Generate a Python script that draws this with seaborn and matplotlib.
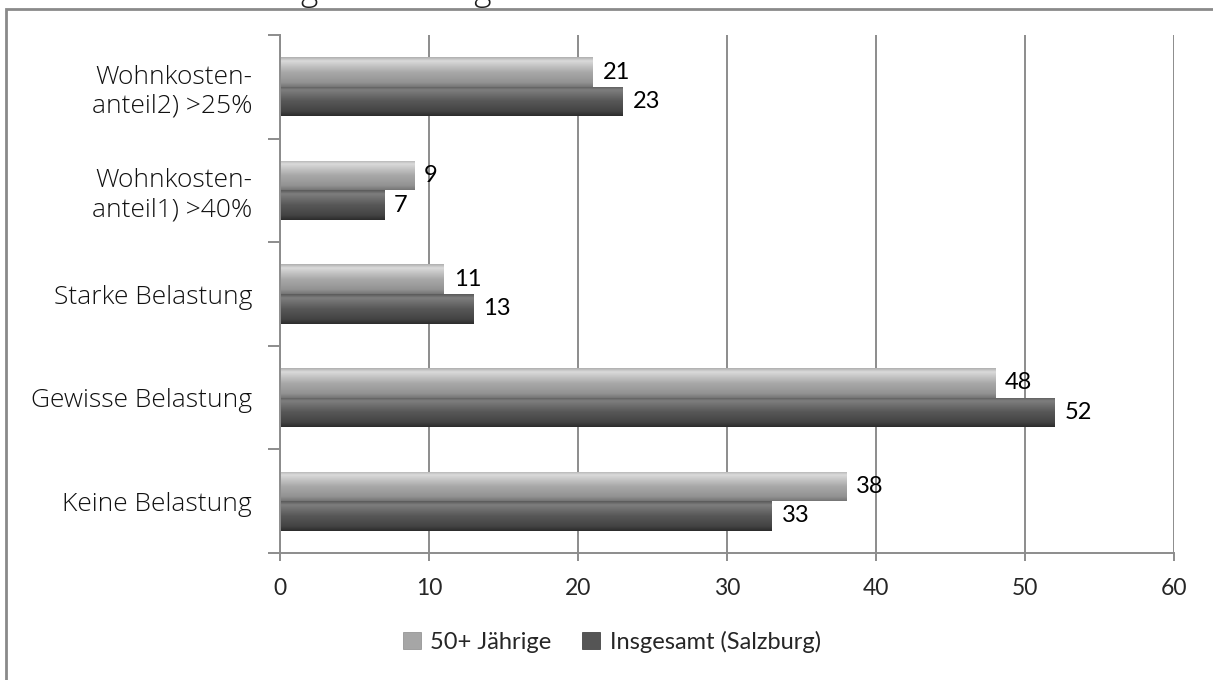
import numpy as np
import pandas as pd
import seaborn as sns
import matplotlib
matplotlib.use("Agg")
import matplotlib.pyplot as plt
from matplotlib.patches import Rectangle, Patch
from matplotlib.colors import LinearSegmentedColormap

categories = ["Wohnkosten-\nanteil2) >25%", "Wohnkosten-\nanteil1) >40%",
              "Starke Belastung", "Gewisse Belastung", "Keine Belastung"]
groups = ["50+ Jährige", "Insgesamt (Salzburg)"]
vals_50plus = [21, 9, 11, 48, 38]
vals_total = [23, 7, 13, 52, 33]
xticks = [0, 10, 20, 30, 40, 50, 60]
title = "Wohnkostenbelastung in Salzburg"

df = pd.DataFrame({
    "cat": categories * 2,
    "group": [groups[0]] * len(categories) + [groups[1]] * len(categories),
    "val": vals_50plus + vals_total,
})

sns.set_style("white")
label_font = "Lato"
cat_font = "Open Sans"

fig = plt.figure(figsize=(12.13, 6.8), dpi=100)
ax = fig.add_axes([280 / 1213, 1 - 553 / 680, (1174 - 280) / 1213, (553 - 35) / 680])

light, dark = "#a6a6a6", "#555555"
sns.barplot(data=df, y="cat", x="val", hue="group", orient="h",
            palette=[light, dark], width=0.57, saturation=1,
            linewidth=0, legend=False, ax=ax)

# bevel-ish gradient on each bar
grad_light = LinearSegmentedColormap.from_list(
    "gl", [(0, "#b0b0b0"), (0.12, "#dadada"), (0.5, "#a9a9a9"), (0.85, "#939393"), (1, "#767676")])
grad_dark = LinearSegmentedColormap.from_list(
    "gd", [(0, "#5a5a5a"), (0.12, "#7e7e7e"), (0.5, "#575757"), (0.85, "#434343"), (1, "#2c2c2c")])
col = np.linspace(0, 1, 64).reshape(-1, 1)
for cont, cmap in zip(ax.containers, [grad_light, grad_dark]):
    for p in cont:
        x0, y0, w, h = p.get_x(), p.get_y(), p.get_width(), p.get_height()
        im = ax.imshow(col, cmap=cmap, aspect="auto", origin="upper",
                       extent=(x0, x0 + w, y0 + h, y0), zorder=2)
        im.set_clip_path(p)
    ax.bar_label(cont, padding=7, fontsize=17, family=label_font, color="black")

ax.set_xlim(0, 60)
ax.set_ylim(len(categories) - 0.5, -0.5)
ax.set_xticks(xticks)
ax.set_xlabel("")
ax.set_ylabel("")

ax.grid(axis="x", color="#8c8c8c", lw=1.4)
ax.set_axisbelow(True)
for s in ["top", "right"]:
    ax.spines[s].set_visible(False)
for s in ["left", "bottom"]:
    ax.spines[s].set_color("#8c8c8c")
    ax.spines[s].set_linewidth(1.4)

ax.set_yticks(np.arange(-0.5, len(categories)), minor=True)
ax.tick_params(axis="y", which="major", length=0, pad=20, labelsize=19,
               labelcolor="#111111")
ax.tick_params(axis="y", which="minor", length=9, width=1.4, color="#8c8c8c", direction="out")
ax.tick_params(axis="x", length=6, width=1.4, color="#8c8c8c", pad=12, labelsize=16.5,
               direction="out")
ax.tick_params(bottom=True, left=True, which="both")
for t in ax.get_yticklabels():
    t.set_family(cat_font)
    t.set_fontweight("light")
for t in ax.get_xticklabels():
    t.set_family(label_font)

handles = [Patch(facecolor=light, edgecolor="#8a8a8a", lw=0.5),
           Patch(facecolor=dark, edgecolor="#333333", lw=0.5)]
fig.legend(handles, groups, loc="center", bbox_to_anchor=(612 / 1213, 1 - 642 / 680),
           ncol=2, frameon=False, handlelength=0.75, handleheight=0.75,
           handletextpad=0.4, columnspacing=1.3, prop={"family": label_font, "size": 17})

# outer frame that runs off the right and bottom edge
fig.add_artist(Rectangle((6 / 1213, -0.2), 1.3, 1.2 - 9 / 680, transform=fig.transFigure,
                         fill=False, edgecolor="#8a8a8a", lw=2))
# title mostly cut off at the top edge, as in the original
fig.text(492 / 1213, 1 - 0.4 / 680, title, ha="right", va="baseline", fontsize=24,
         family=cat_font, fontweight="light", color="#1e1e1e")

fig.savefig("out.png", dpi=100)
